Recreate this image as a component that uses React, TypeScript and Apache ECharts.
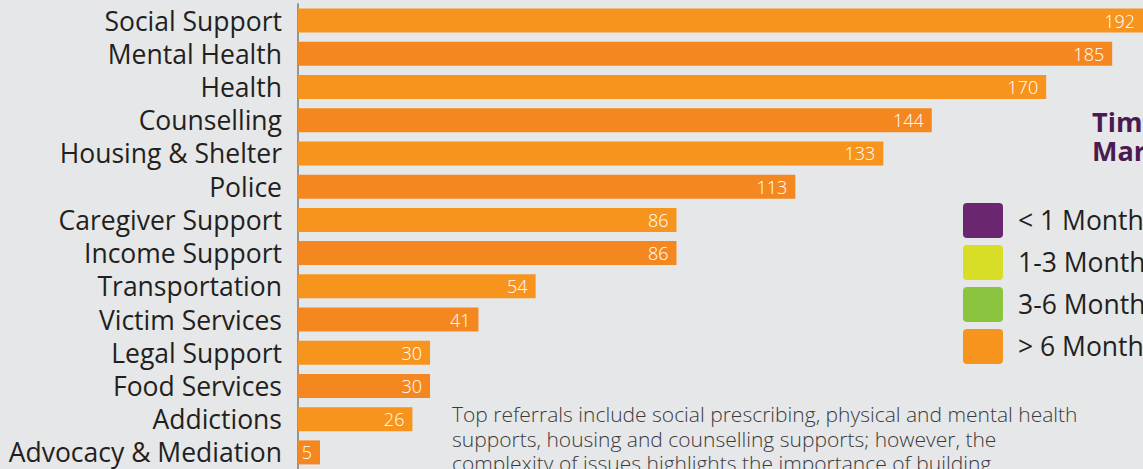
import React, { useEffect, useRef } from "react";
import * as echarts from "echarts";

const categories = [
  "Social Support",
  "Mental Health",
  "Health",
  "Counselling",
  "Housing & Shelter",
  "Police",
  "Caregiver Support",
  "Income Support",
  "Transportation",
  "Victim Services",
  "Legal Support",
  "Food Services",
  "Addictions",
  "Advocacy & Mediation",
];
const values = [192, 185, 170, 144, 133, 113, 86, 86, 54, 41, 30, 30, 26, 5];
const legendNames = ["< 1 Month", "1-3 Months", "3-6 Months", "> 6 Months"];
const legendColors = ["#6B2670", "#D8DE26", "#8BC53F", "#F7941E"];
const titleText = "Time\nMarked";
const noteLines = [
  "Top referrals include social prescribing, physical and mental health",
  "supports, housing and counselling supports; however, the",
  "complexity of issues highlights the importance of building",
];

const LIGHT = "#F7941E";
const DARK = "#F58720";
const FONT = "'Open Sans', 'Noto Sans', sans-serif";

export default function App() {
  const ref = useRef<HTMLDivElement>(null);
  useEffect(() => {
    if (!ref.current) return;
    const chart = echarts.init(ref.current, undefined, { renderer: "svg" });
    const graphics: any[] = [];
    graphics.push({
      type: "text",
      x: 1092,
      y: 107,
      style: {
        text: titleText,
        fill: "#4B1A50",
        font: `bold 27px ${FONT}`,
        lineHeight: 29,
        verticalAlign: "top",
      },
    });
    legendNames.forEach((n, i) => {
      graphics.push({
        type: "rect",
        shape: { x: 963, y: 203 + i * 42, width: 40, height: 35, r: 4 },
        style: { fill: legendColors[i] },
      });
      graphics.push({
        type: "text",
        x: 1018,
        y: 220 + i * 42,
        style: {
          text: n,
          fill: "#231F20",
          font: `26.5px ${FONT}`,
          verticalAlign: "middle",
        },
      });
    });
    graphics.push({
      type: "text",
      x: 452,
      y: 402,
      style: {
        text: noteLines.join("\n"),
        fill: "#3A3A3C",
        font: `300 21px ${FONT}`,
        lineHeight: 24.5,
        verticalAlign: "top",
      },
    });
    chart.setOption({
      animation: false,
      backgroundColor: "#E6E7E8",
      grid: { left: 298, right: 0, top: 4, height: 466 },
      xAxis: {
        type: "value",
        min: 0,
        max: 192,
        show: false,
        splitLine: { show: false },
      },
      yAxis: {
        type: "category",
        inverse: true,
        data: categories,
        axisLine: { show: true, lineStyle: { color: "#939598", width: 2 } },
        axisTick: { show: false },
        axisLabel: {
          interval: 0,
          fontSize: 26.5,
          fontFamily: FONT,
          color: "#231F20",
          margin: 16,
        },
      },
      series: [
        {
          type: "bar",
          data: values,
          barWidth: 24,
          itemStyle: {
            color: (p: any) => (p.dataIndex % 2 === 0 ? LIGHT : DARK),
          },
          label: {
            show: true,
            position: "insideRight",
            distance: 8,
            color: "#FFFFFF",
            fontSize: 18,
            fontWeight: 300,
            fontFamily: FONT,
          },
        },
      ],
      graphic: graphics,
    });
    return () => chart.dispose();
  }, []);
  return (
    <div
      ref={ref}
      style={{ position: "absolute", left: 0, top: 0, width: 1143, height: 469, overflow: "hidden" }}
    />
  );
}
